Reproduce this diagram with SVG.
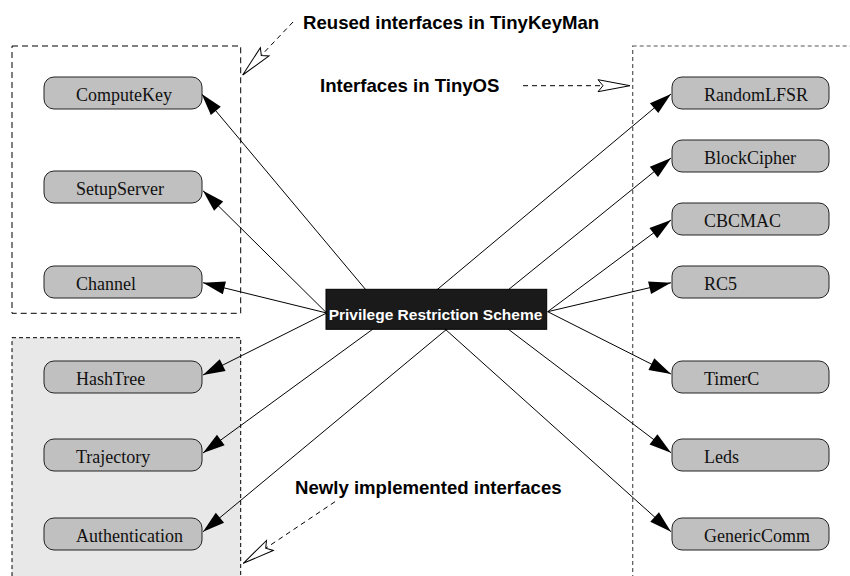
<svg xmlns="http://www.w3.org/2000/svg" width="850" height="576" viewBox="0 0 850 576">
<style>
.node rect{fill:#c0c0c0;stroke:#222;stroke-width:1}
.node text{font-family:"Liberation Serif","Times New Roman",serif;font-size:18px;fill:#111}
.edge{stroke:#000;stroke-width:1;fill:none;marker-end:url(#ah)}
.note{font-family:"Liberation Sans",Arial,sans-serif;font-weight:bold;font-size:18.6px;fill:#000}
.ann{stroke:#000;stroke-width:1;fill:none;stroke-dasharray:5,4;marker-end:url(#oh)}
</style>
<defs>
<marker id="ah" markerUnits="userSpaceOnUse" markerWidth="24" markerHeight="14" refX="22" refY="6.5" orient="auto" overflow="visible">
<path d="M0,0 L22,6.5 L0,13 Z" fill="#000" stroke="none"/>
</marker>
<marker id="oh" markerUnits="userSpaceOnUse" markerWidth="34" markerHeight="14" refX="32" refY="6" orient="auto" overflow="visible">
<path d="M0,0 L32,6 L0,12 L5,6 Z" fill="#fff" stroke="#000" stroke-width="1" stroke-dasharray="none"/>
</marker>
</defs>
<g id="groups">
<rect x="12" y="337.7" width="228.7" height="300" fill="#e8e8e8" stroke="#000" stroke-dasharray="4,3"/>
<rect x="12" y="46" width="228.7" height="267.3" fill="none" stroke="#000" stroke-dasharray="6,4"/>
<rect x="632.7" y="46" width="300" height="600" fill="none" stroke="#555" stroke-width="1.2" stroke-dasharray="4,3"/>
</g>
<g id="connectors">
<line class="edge" x1="366" y1="290" x2="201.7" y2="94"/>
<line class="edge" x1="326.7" y1="313" x2="203" y2="190.7"/>
<line class="edge" x1="326.7" y1="313" x2="203" y2="282.7"/>
<line class="edge" x1="326.7" y1="313" x2="203" y2="375"/>
<line class="edge" x1="373" y1="329" x2="203" y2="453"/>
<line class="edge" x1="447" y1="329" x2="203" y2="531.7"/>
<line class="edge" x1="436.7" y1="290" x2="671" y2="94"/>
<line class="edge" x1="508" y1="290" x2="671" y2="158"/>
<line class="edge" x1="547.7" y1="311.7" x2="671" y2="220"/>
<line class="edge" x1="547.7" y1="311.7" x2="671" y2="282.7"/>
<line class="edge" x1="547.7" y1="311.7" x2="671" y2="374"/>
<line class="edge" x1="508" y1="329" x2="671" y2="452.7"/>
<line class="edge" x1="445" y1="329" x2="671" y2="531.7"/>
<line class="ann" x1="293" y1="22" x2="242.7" y2="75"/>
<line class="ann" x1="523" y1="85.7" x2="630" y2="85.7"/>
<line class="ann" x1="335" y1="501.7" x2="243.3" y2="563.3"/>
</g>
<g id="center">
<rect x="326" y="289.3" width="220.7" height="40" fill="#1a1a1a" stroke="#000"/>
<text x="435.5" y="320" text-anchor="middle" font-family="'Liberation Sans',Arial,sans-serif" font-weight="bold" font-size="15.5px" fill="#fff">Privilege Restriction Scheme</text>
</g>
<g id="ComputeKey" class="node"><rect x="44" y="77" width="158" height="32" rx="10"/><text x="76" y="100.5">ComputeKey</text></g>
<g id="SetupServer" class="node"><rect x="44" y="171" width="158" height="32" rx="10"/><text x="76" y="194.5">SetupServer</text></g>
<g id="Channel" class="node"><rect x="44" y="266" width="158" height="32" rx="10"/><text x="76" y="289.5">Channel</text></g>
<g id="HashTree" class="node"><rect x="44" y="361" width="158" height="32" rx="10"/><text x="76" y="384.5">HashTree</text></g>
<g id="Trajectory" class="node"><rect x="44" y="439" width="158" height="32" rx="10"/><text x="76" y="462.5">Trajectory</text></g>
<g id="Authentication" class="node"><rect x="44" y="518" width="158" height="32" rx="10"/><text x="76" y="541.5">Authentication</text></g>
<g id="RandomLFSR" class="node"><rect x="672" y="77" width="157" height="32" rx="10"/><text x="704" y="100.5">RandomLFSR</text></g>
<g id="BlockCipher" class="node"><rect x="672" y="140" width="157" height="32" rx="10"/><text x="704" y="163.5">BlockCipher</text></g>
<g id="CBCMAC" class="node"><rect x="672" y="203" width="157" height="32" rx="10"/><text x="704" y="226.5">CBCMAC</text></g>
<g id="RC5" class="node"><rect x="672" y="266" width="157" height="32" rx="10"/><text x="704" y="289.5">RC5</text></g>
<g id="TimerC" class="node"><rect x="672" y="361" width="157" height="32" rx="10"/><text x="704" y="384.5">TimerC</text></g>
<g id="Leds" class="node"><rect x="672" y="439" width="157" height="32" rx="10"/><text x="704" y="462.5">Leds</text></g>
<g id="GenericComm" class="node"><rect x="672" y="518" width="157" height="32" rx="10"/><text x="704" y="541.5">GenericComm</text></g>
<g id="labels">
<text class="note" x="303" y="28.5">Reused interfaces in TinyKeyMan</text>
<text class="note" x="320" y="92">Interfaces in TinyOS</text>
<text class="note" x="295" y="493.5">Newly implemented interfaces</text>
</g>
</svg>
